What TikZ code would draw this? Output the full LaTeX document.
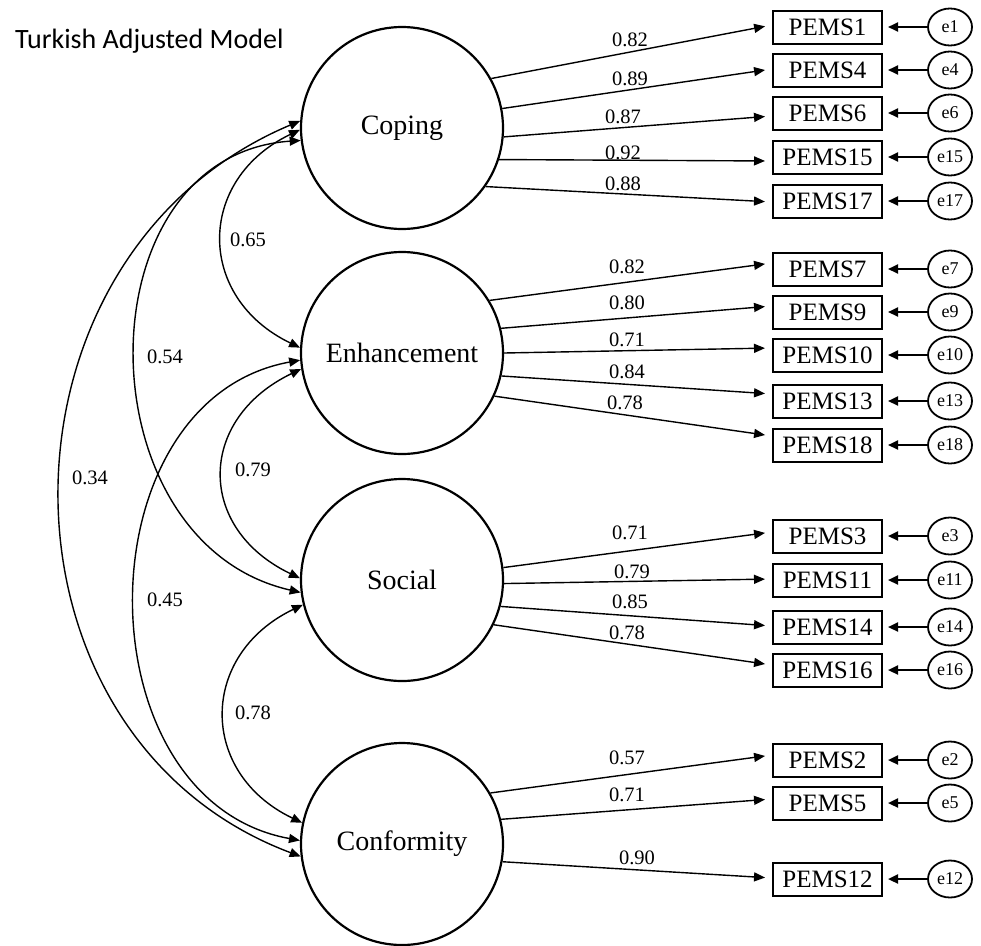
\documentclass[tikz,border=0pt]{standalone}
\usepackage{fontspec}
\setmainfont{Liberation Serif}
\newfontfamily\titlefont{Carlito}
\usetikzlibrary{arrows.meta,shapes.geometric}
\begin{document}
\begin{tikzpicture}[x=1pt,y=-1pt,
  latent/.style={circle,draw,line width=2.2pt,minimum size=202pt,inner sep=0pt,font=\fontsize{28}{32}\selectfont},
  obs/.style={rectangle,draw,line width=2pt,minimum width=109pt,minimum height=33pt,inner sep=0pt,font=\fontsize{25}{28}\selectfont},
  err/.style={ellipse,draw,line width=1.8pt,minimum width=44pt,minimum height=37pt,inner sep=0pt,font=\fontsize{18}{20}\selectfont},
  load/.style={line width=1.4pt,-{Triangle[length=11pt,width=9pt]},shorten >=7pt},
  errarr/.style={line width=2.2pt,-{Triangle[length=10pt,width=9pt]},shorten >=5pt},
  cov/.style={line width=1.4pt,{Triangle[length=11pt,width=9pt]}-{Triangle[length=11pt,width=9pt]}},
  coef/.style={font=\fontsize{20.5}{22}\selectfont,inner sep=0pt}
]
\useasboundingbox (0,0) rectangle (981,945);

\node[anchor=base west,inner sep=0pt,font=\titlefont\fontsize{28}{30}\selectfont] (title) at (15,48) {Turkish Adjusted Model};

% latent factors
\node[latent] (cop) at (402,128) {Coping};
\node[latent] (enh) at (402,353) {Enhancement};
\node[latent] (soc) at (402,580) {Social};
\node[latent] (con) at (402,844) {Conformity};

% observed items and errors
\foreach \n/\y in {1/27,4/70,6/113,15/157,17/201,7/269,9/312,10/355,13/401,18/445,3/536,11/580,14/627,16/670,2/760,5/803,12/879}{
  \node[obs] (p\n) at (827.5,\y) {PEMS\n};
  \node[err] (e\n) at (950,\y) {e\n};
  \draw[errarr] (e\n) -- (p\n);
}

% loadings: Coping
\draw[load] (cop.29)   -- ([yshift=2pt]p1.west);
\draw[load] (cop.11)   -- ([yshift=1pt]p4.west);
\draw[load] (cop.-5)   -- ([yshift=-3pt]p6.west);
\draw[load] (cop.-18.6) -- ([yshift=-4pt]p15.west);
\draw[load] (cop.-35.5) -- ([yshift=-1pt]p17.west);
\node[coef] (c1)  at (630,40)  {0.82};
\node[coef] (c4)  at (630,79)  {0.89};
\node[coef] (c6)  at (623,117) {0.87};
\node[coef] (c15) at (623,153) {0.92};
\node[coef] (c17) at (623,184) {0.88};

% loadings: Enhancement
\draw[load] (enh.31.6)  -- ([yshift=6pt]p7.west);
\draw[load] (enh.14.9)  -- ([yshift=6pt]p9.west);
\draw[load] (enh.0)     -- ([yshift=7pt]p10.west);
\draw[load] (enh.-13.5) -- ([yshift=7pt]p13.west);
\draw[load] (enh.-25.3) -- ([yshift=9pt]p18.west);
\node[coef] (c7)  at (627,267) {0.82};
\node[coef] (c9)  at (627,303) {0.80};
\node[coef] (c10) at (627,340) {0.71};
\node[coef] (c13) at (627,372) {0.84};
\node[coef] (c18) at (625,403) {0.78};

% loadings: Social
\draw[load] (soc.7.7)   -- ([yshift=4pt]p3.west);
\draw[load] (soc.-2.2)  -- ([yshift=1pt]p11.west);
\draw[load] (soc.-15.1) -- ([yshift=1pt]p14.west);
\draw[load] (soc.-26.3) -- ([yshift=5pt]p16.west);
\node[coef] (c3)  at (630,533) {0.71};
\node[coef] (c11) at (632,572) {0.79};
\node[coef] (c14) at (630,602) {0.85};
\node[coef] (c16) at (627,633) {0.78};

% loadings: Conformity
\draw[load] (con.30.6)  -- ([yshift=5pt]p2.west);
\draw[load] (con.14)    -- ([yshift=4pt]p5.west);
\draw[load] (con.-10.8) -- ([yshift=1pt]p12.west);
\node[coef] (c2)  at (627,758) {0.57};
\node[coef] (c5)  at (627,795) {0.71};
\node[coef] (c12) at (637,858) {0.90};

% covariances
\draw[cov] (cop.176)   .. controls +(-320,135) and +(-320,-120) .. (con.187.4);
\draw[cov] (cop.187.4) .. controls +(-220,15)  and +(-220,-50)  .. (soc.187.4);
\draw[cov] (enh.184)   .. controls +(-220,40)  and +(-220,-40)  .. (con.178);
\draw[cov] (cop.181)   .. controls +(-104,50)  and +(-104,-50)  .. (enh.177.7);
\draw[cov] (enh.189)   .. controls +(-104,50)  and +(-104,-50)  .. (soc.179);
\draw[cov] (soc.194)   .. controls +(-104,50)  and +(-104,-50)  .. (con.168);
\node[coef] (k65) at (248,240) {0.65};
\node[coef] (k54) at (165,357) {0.54};
\node[coef] (k34) at (90,478)  {0.34};
\node[coef] (k79) at (253,470) {0.79};
\node[coef] (k45) at (165,600) {0.45};
\node[coef] (k78) at (253,713) {0.78};
\end{tikzpicture}
\end{document}
